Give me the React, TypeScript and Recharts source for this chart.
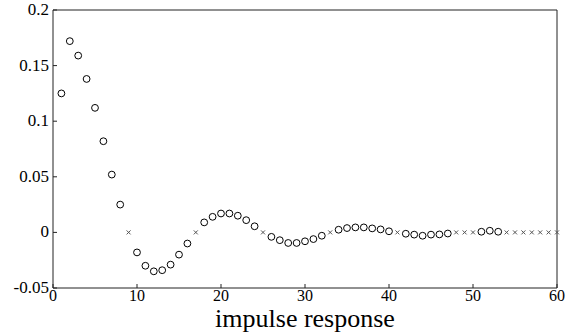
import { ScatterChart, Scatter, XAxis, YAxis } from "recharts";

const lags = [
  1, 2, 3, 4, 5, 6, 7, 8, 9, 10, 11, 12, 13, 14, 15, 16, 17, 18, 19, 20,
  21, 22, 23, 24, 25, 26, 27, 28, 29, 30, 31, 32, 33, 34, 35, 36, 37, 38, 39, 40,
  41, 42, 43, 44, 45, 46, 47, 48, 49, 50, 51, 52, 53, 54, 55, 56, 57, 58, 59, 60,
];

const response = [
  0.125, 0.172, 0.159, 0.138, 0.112, 0.082, 0.052, 0.025, 0, -0.018,
  -0.03, -0.035, -0.034, -0.029, -0.02, -0.01, 0, 0.009, 0.014, 0.017,
  0.017, 0.015, 0.011, 0.0055, 0, -0.004, -0.007, -0.0095, -0.0095, -0.008,
  -0.006, -0.003, 0, 0.0024, 0.0039, 0.0045, 0.0045, 0.0036, 0.0027, 0.001,
  0, -0.0012, -0.002, -0.003, -0.002, -0.0018, -0.001, 0, 0, 0,
  0.0006, 0.0015, 0.0006, 0, 0, 0, 0, 0, 0, 0,
];

const xTicks = [0, 10, 20, 30, 40, 50, 60];
const yTicks = [-0.05, 0, 0.05, 0.1, 0.15, 0.2];

const points = lags.map((lag, i) => ({ lag, value: response[i] }));
const circles = points.filter((p) => p.value !== 0);
const crosses = points.filter((p) => p.value === 0);

const font = "Liberation Serif";
const axisColor = "#222";

const Circle = (props: any) => (
  <circle cx={props.cx} cy={props.cy} r={3.4} fill="#fff" stroke="#000" strokeWidth={1} />
);

const Cross = (props: any) => {
  const { cx, cy } = props;
  const s = 2;
  return (
    <g stroke="#555" strokeWidth={1}>
      <line x1={cx - s} y1={cy - s} x2={cx + s} y2={cy + s} />
      <line x1={cx - s} y1={cy + s} x2={cx + s} y2={cy - s} />
    </g>
  );
};

const fmtY = (v: number) => String(Number(v.toFixed(2)));

const XTick = (props: any) => (
  <text x={props.x} y={props.y + 15} textAnchor="middle" fill="#000" fontSize={16} fontFamily={font}>
    {props.payload.value}
  </text>
);

const YTick = (props: any) => (
  <text x={props.x - 6} y={props.y + 5} textAnchor="end" fill="#000" fontSize={17} fontFamily={font}>
    {fmtY(props.payload.value)}
  </text>
);

const AxisTitle = (props: any) => {
  const vb = props.viewBox;
  return (
    <text
      x={vb.x + vb.width / 2}
      y={327}
      textAnchor="middle"
      fill="#000"
      fontSize={26}
      fontFamily={font}
    >
      impulse response
    </text>
  );
};

export default function App() {
  return (
    <div style={{ position: "absolute", left: 0, top: 0 }}>
      <ScatterChart
        width={581}
        height={336}
        margin={{ top: 9, right: 23, bottom: 0, left: 0 }}
      >
        <XAxis
          xAxisId={0}
          type="number"
          dataKey="lag"
          domain={[0, 60]}
          ticks={xTicks}
          height={48}
          tickSize={-4}
          stroke={axisColor}
          tick={XTick}
          label={<AxisTitle />}
        />
        <XAxis
          xAxisId="top"
          orientation="top"
          type="number"
          domain={[0, 60]}
          ticks={xTicks}
          height={1}
          tickSize={-4}
          stroke={axisColor}
          tick={() => <g />}
        />
        <YAxis
          yAxisId={0}
          type="number"
          dataKey="value"
          domain={[-0.05, 0.2]}
          ticks={yTicks}
          width={53}
          tickSize={-4}
          stroke={axisColor}
          tick={YTick}
        />
        <YAxis
          yAxisId="right"
          orientation="right"
          type="number"
          domain={[-0.05, 0.2]}
          ticks={yTicks}
          width={1}
          tickSize={-4}
          stroke={axisColor}
          tick={() => <g />}
        />
        <Scatter data={circles} shape={Circle} isAnimationActive={false} />
        <Scatter data={crosses} shape={Cross} isAnimationActive={false} />
      </ScatterChart>
    </div>
  );
}
